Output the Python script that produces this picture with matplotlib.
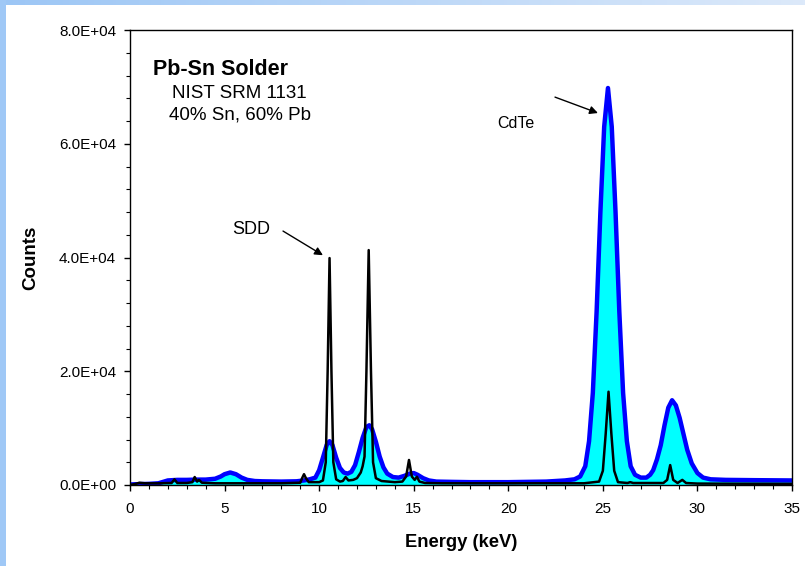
import matplotlib
matplotlib.use('Agg')
import matplotlib.pyplot as plt
import numpy as np
from matplotlib.ticker import MultipleLocator, FuncFormatter

plt.rcParams['font.family'] = ['Liberation Sans', 'DejaVu Sans']

# CdTe detector spectrum (energy keV, counts)
cdte_energy = [0.0, 0.5, 1.0, 1.5, 1.8, 2.0, 2.5, 3.0, 3.5, 4.0, 4.5, 4.8, 5.0, 5.3, 5.6,
               5.9, 6.2, 6.6, 7.0, 8.0, 8.8, 9.2, 9.5, 9.8, 10.0, 10.2, 10.4, 10.55, 10.7,
               10.9, 11.1, 11.3, 11.5, 11.7, 11.9, 12.1, 12.3, 12.5, 12.65, 12.8, 13.0,
               13.2, 13.4, 13.6, 13.9, 14.2, 14.5, 14.8, 15.0, 15.2, 15.5, 15.8, 16.2,
               17.0, 18.0, 19.0, 20.0, 21.0, 22.0, 23.0, 23.5, 23.8, 24.07, 24.27, 24.47,
               24.67, 24.87, 25.07, 25.27, 25.47, 25.67, 25.87, 26.07, 26.27, 26.47, 26.7,
               27.0, 27.3, 27.5, 27.66, 27.86, 28.06, 28.26, 28.46, 28.66, 28.86, 29.06,
               29.26, 29.46, 29.7, 30.0, 30.3, 30.7, 31.5, 33.0, 35.0]
cdte_counts = [100, 150, 200, 300, 600, 800, 900, 900, 950, 950, 1100, 1500, 1900, 2200, 1900,
               1300, 900, 700, 650, 600, 650, 800, 1000, 1300, 2600, 4800, 7050, 7700, 7050,
               4800, 3000, 2200, 2000, 2300, 3500, 5800, 8300, 10200, 10500, 9800, 7600,
               5000, 3100, 2000, 1400, 1300, 1600, 2000, 2100, 1800, 1200, 800, 600,
               550, 500, 500, 500, 550, 600, 800, 1000, 1500, 3300, 7700, 16200,
               30500, 48000, 63000, 69800, 63000, 48000, 30500, 16200, 7700, 3300, 1800,
               1300, 1300, 1800, 2600, 4500, 7000, 10500, 13600, 14900, 14000, 11800,
               9000, 6200, 3800, 2100, 1300, 1000, 900, 850, 800]

# SDD detector spectrum
sdd_energy = [0.0, 0.3, 0.5, 0.8, 1.5, 2.2, 2.35, 2.5, 3.0, 3.3, 3.42, 3.55, 3.65, 3.8, 4.5,
              6.0, 8.0, 9.0, 9.1, 9.2, 9.3, 9.45, 10.0, 10.2, 10.35, 10.45, 10.55, 10.65,
              10.75, 10.9, 11.1, 11.25, 11.4, 11.55, 11.8, 12.0, 12.2, 12.3, 12.4, 12.5,
              12.62, 12.74, 12.85, 13.0, 13.3, 14.0, 14.4, 14.6, 14.75, 14.9, 15.05, 15.17,
              15.3, 15.6, 16.5, 20.0, 24.0, 24.8, 25.0, 25.15, 25.3, 25.45, 25.6, 25.8,
              26.3, 26.45, 26.6, 28.2, 28.4, 28.56, 28.72, 28.95, 29.2, 29.4, 30.0, 35.0]
sdd_counts = [0, 200, 400, 300, 300, 350, 1000, 350, 350, 500, 1400, 600, 900, 400, 300,
              300, 300, 400, 1200, 1900, 1200, 500, 500, 800, 4000, 20000, 39900, 20000,
              4000, 1000, 600, 700, 1400, 800, 900, 1200, 2200, 3300, 5000, 20000,
              41300, 20000, 4000, 1200, 700, 500, 600, 1500, 4400, 1500, 900, 1450,
              600, 350, 300, 300, 300, 600, 2500, 9000, 16400, 9000, 2500, 500,
              350, 500, 350, 350, 900, 3500, 900, 350, 900, 350, 250, 200]

fig = plt.figure(figsize=(8.05, 5.66), dpi=100)

# light blue frame on the left and top edges
band = fig.add_axes([0, 1 - 5 / 566, 1, 5 / 566])
band.imshow(np.linspace(0, 1, 256).reshape(1, -1), aspect='auto',
            cmap=matplotlib.colors.LinearSegmentedColormap.from_list('b', ['#9cc6f5', '#dce9fa']))
band.axis('off')
side = fig.add_axes([0, 0, 6 / 805, 1])
side.set_facecolor('#9fc8f6')
side.set_xticks([])
side.set_yticks([])
for s in side.spines.values():
    s.set_visible(False)

ax = fig.add_axes([130 / 805, 81 / 566, 662 / 805, 455 / 566])
ax.fill_between(cdte_energy, 0, cdte_counts, color='#00ffff', lw=0, zorder=1)
ax.plot(cdte_energy, cdte_counts, color='#0000ff', lw=3.2, zorder=2, solid_joinstyle='round')
ax.plot(sdd_energy, sdd_counts, color='black', lw=1.8, zorder=3)

ax.set_xlim(0, 35)
ax.set_ylim(0, 80000)
ax.xaxis.set_major_locator(MultipleLocator(5))
ax.xaxis.set_minor_locator(MultipleLocator(1))
ax.yaxis.set_major_locator(MultipleLocator(20000))
ax.yaxis.set_minor_locator(MultipleLocator(4000))
ax.yaxis.set_major_formatter(FuncFormatter(lambda v, p: '%.1E' % v))
ax.tick_params(which='major', direction='out', length=4, width=1, labelsize=11, pad=6)
ax.tick_params(axis='x', which='major', pad=8)
ax.tick_params(which='minor', direction='out', length=3, width=0.8)
for s in ax.spines.values():
    s.set_linewidth(1)

ax.set_xlabel('Energy (keV)', fontsize=13.2, fontweight='bold', labelpad=13)
ax.set_ylabel('Counts', fontsize=13.5, fontweight='bold', labelpad=14)

ax.text(1.2, 73000, 'Pb-Sn Solder', fontsize=15.5, fontweight='bold', va='center')
ax.text(2.2, 68900, 'NIST SRM 1131', fontsize=13.5, va='center')
ax.text(2.05, 65000, '40% Sn, 60% Pb', fontsize=13.5, va='center')

ax.text(19.4, 63600, 'CdTe', fontsize=11.5, va='center')
ax.annotate('', xy=(24.74, 65400), xytext=(22.47, 68200),
            arrowprops=dict(arrowstyle='-|>', color='black', lw=1, mutation_scale=12,
                            shrinkA=0, shrinkB=0))
ax.text(5.39, 45000, 'SDD', fontsize=13, va='center')
ax.annotate('', xy=(10.2, 40400), xytext=(8.09, 44650),
            arrowprops=dict(arrowstyle='-|>', color='black', lw=1, mutation_scale=12,
                            shrinkA=0, shrinkB=0))

fig.savefig('out.png', dpi=100)
